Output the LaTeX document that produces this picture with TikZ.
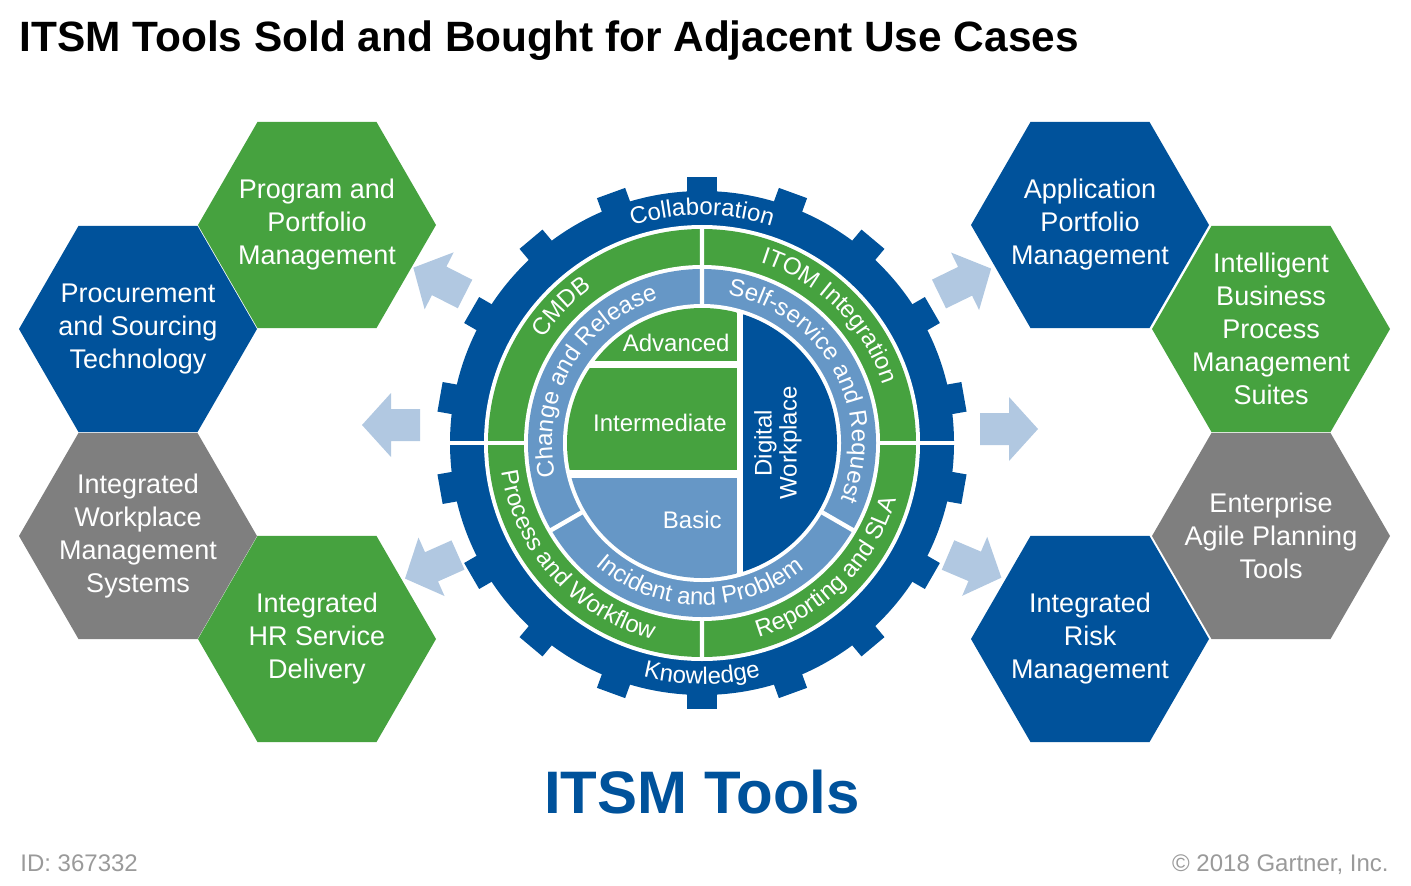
\documentclass[tikz,border=0pt]{standalone}
\usepackage{fontspec}
\setmainfont{Liberation Sans}
\usepackage{tikz}
\usetikzlibrary{shapes.geometric,decorations.text}
\definecolor{gearc}{HTML}{00529B}
\definecolor{greenc}{HTML}{46A23F}
\definecolor{lightc}{HTML}{6697C6}
\definecolor{arrc}{HTML}{B1C8E1}
\definecolor{grayc}{HTML}{7F7F7F}
\definecolor{footc}{HTML}{9A9A9A}
\tikzset{
  hx/.style={regular polygon,regular polygon sides=6,minimum size=119pt,inner sep=-14pt,outer sep=0pt,text=white,align=center,font=\fontsize{13.5}{16.5}\selectfont},
  gapln/.style={white,line width=2.2pt},
  lbl/.style={text=white,inner sep=0pt,font=\fontsize{12}{12.5}\selectfont}
}
\newcommand{\ringtxt}{\color{white}\fontsize{12}{12}\selectfont}
\newcommand{\arctop}[3]{\path[decorate,decoration={text along path,text align=center,text={|\ringtxt|#3}}] ({#1+70}:#2) arc ({#1+70}:{#1-70}:#2);}
\newcommand{\arcbot}[3]{\path[decorate,decoration={text along path,text align=center,text={|\ringtxt|#3}}] ({#1-70}:#2) arc ({#1-70}:{#1+70}:#2);}
\newcommand{\flowarr}[3]{\fill[arrc,shift={(#1,#2)},rotate=#3] (0,-16)--(29,-16)--(29,-32)--(58,0)--(29,32)--(29,16)--(0,16)--cycle;}
\begin{document}
\begin{tikzpicture}[x=0.5pt,y=0.5pt]
\useasboundingbox (0,0) rectangle (1411,885);
\node[anchor=base west,inner sep=0pt,font=\fontsize{21.2}{25}\selectfont\bfseries] (ttl) at (19,833) {ITSM Tools Sold and Bought for Adjacent Use Cases};
\node[hx,fill=greenc] (ppm) at (317,660) {Program and\\Portfolio\\Management};
\node[hx,fill=gearc] (pst) at (138,556) {Procurement\\and Sourcing\\Technology};
\node[hx,fill=grayc] (iwm) at (138,349) {Integrated\\Workplace\\Management\\Systems};
\node[hx,fill=greenc] (hrs) at (317,246) {Integrated\\HR Service\\Delivery};
\node[hx,fill=gearc] (apm) at (1090,660) {Application\\Portfolio\\Management};
\node[hx,fill=greenc] (bpm) at (1271,556) {Intelligent\\Business\\Process\\Management\\Suites};
\node[hx,fill=grayc] (eap) at (1271,349) {Enterprise\\Agile Planning\\Tools};
\node[hx,fill=gearc] (irm) at (1090,246) {Integrated\\Risk\\Management};
\flowarr{420}{460}{180}
\flowarr{980}{456}{0}
\flowarr{465}{591}{153}
\flowarr{939}{591}{26}
\flowarr{458}{330}{204}
\flowarr{948}{330}{337}
\begin{scope}[shift={(702,442)}]
\fill[gearc] (0,0) circle (252);
\foreach \a in {10,30,...,350} \fill[gearc,rotate=\a] (240,-15) rectangle (266,15);
\fill[white] (0,0) circle (218);
\fill[greenc] (0,0) circle (214);
\fill[white] (0,0) circle (178);
\fill[lightc] (0,0) circle (174);
\fill[white] (0,0) circle (139);
\begin{scope}
\clip (0,0) circle (135);
\fill[greenc] (-140,82) rectangle (35,140);
\fill[greenc] (-140,-27) rectangle (35,75);
\fill[lightc] (-140,-140) rectangle (35,-35);
\fill[gearc] (41,-140) rectangle (140,140);
\end{scope}
\draw[gapln] (180:176) -- (180:256) (0:176) -- (0:256);
\draw[gapln] (90:137) -- (90:216) (270:176) -- (270:216) (210:137) -- (210:176) (330:137) -- (330:176);
\arctop{90}{228}{Collaboration}
\arcbot{270}{241}{Knowledge}
\arctop{136}{190}{CMDB}
\arctop{45}{190}{ITOM Integration}
\arcbot{222}{202}{Process and Workflow}
\arcbot{315}{202}{Reporting and SLA}
\arctop{150}{150}{Change and Release}
\arctop{29}{150}{Self-service and Request}
\arcbot{269}{162}{Incident and Problem}
\node[lbl,anchor=east] (adv) at (28,100) {Advanced};
\node[lbl,anchor=east] (imd) at (25,20) {Intermediate};
\node[lbl,anchor=east] (bas) at (20,-77) {Basic};
\node[lbl,rotate=90,align=center] (dwp) at (76,0) {Digital\\Workplace};
\end{scope}
\node[anchor=base,inner sep=0pt,text=gearc,font=\fontsize{30}{36}\selectfont\bfseries] (itsm) at (702,72) {ITSM Tools};
\node[anchor=base west,inner sep=0pt,text=footc,font=\fontsize{12}{14}\selectfont] (fid) at (20,14) {ID: 367332};
\node[anchor=base east,inner sep=0pt,text=footc,font=\fontsize{12}{14}\selectfont] (fcp) at (1389,14) {© 2018 Gartner, Inc.};
\end{tikzpicture}
\end{document}
